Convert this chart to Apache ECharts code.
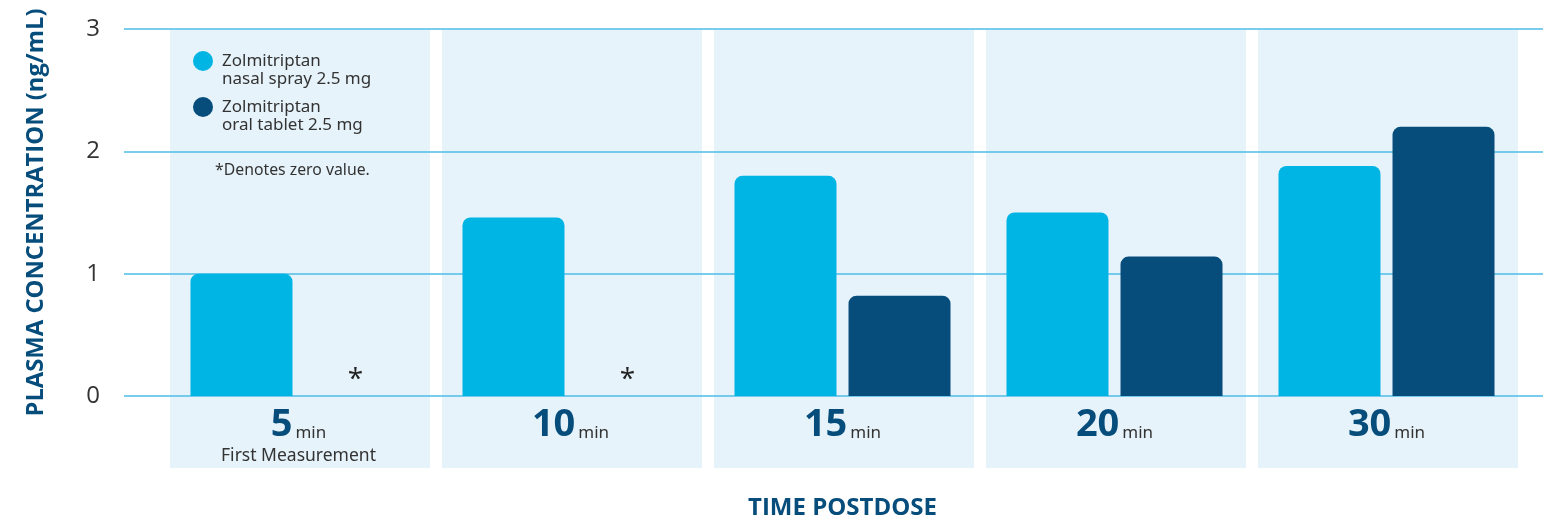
<!DOCTYPE html>
<html>
<head>
<meta charset="utf-8">
<script src="https://cdn.jsdelivr.net/npm/echarts@6/dist/echarts.min.js"></script>
<style>
html,body{margin:0;padding:0;background:#fff;}
#c{width:1543px;height:516px;}
</style>
</head>
<body>
<div id="c"></div>
<script>
const categories = ['5', '10', '15', '20', '30'];
const subLabels = ['First Measurement', '', '', '', ''];
const nasalSpray = [1.0, 1.46, 1.8, 1.5, 1.88];
const oralTablet = [0, 0, 0.82, 1.14, 2.2];
const panelValues = [1, 1, 1, 1, 1];
const yTicks = [0, 1, 2, 3];

const NAVY = '#064d7c';
const CYAN = '#00b4e4';
const PANEL = '#e6f3fa';
const GRIDLINE = '#4cbde6';
const TXT = '#333333';

const chart = echarts.init(document.getElementById('c'));
chart.setOption({
  animation: false,
  backgroundColor: '#ffffff',
  textStyle: { fontFamily: 'Open Sans' },
  grid: [
    { left: 124, right: 0, top: 29, bottom: 120, outerBoundsMode: 'none', containLabel: false },
    { left: 162.5, right: 20.5, top: 29, bottom: 120, outerBoundsMode: 'none', containLabel: false },
    { left: 164, right: 19, top: 30, bottom: 48, outerBoundsMode: 'none', containLabel: false }
  ],
  legend: {
    orient: 'vertical',
    left: 193,
    top: 34,
    padding: 0,
    itemGap: -8,
    itemWidth: 20,
    itemHeight: 20,
    icon: 'circle',
    data: ['Zolmitriptan\nnasal spray 2.5 mg', 'Zolmitriptan\noral tablet 2.5 mg'],
    formatter: function (name) { return '\n' + name; },
    textStyle: {
      fontFamily: 'Noto Sans',
      fontSize: 17,
      lineHeight: 18,
      color: TXT,
      padding: [0, 0, 0, 4]
    }
  },
  graphic: [{
    type: 'text',
    left: 215,
    top: 162,
    style: {
      text: '*Denotes zero value.',
      font: '15.8px "Noto Sans"',
      fill: TXT
    }
  }],
  xAxis: [
    { gridIndex: 0, type: 'value', min: 0, max: 1, show: false },
    {
      gridIndex: 1,
      type: 'category',
      data: categories,
      axisLine: { show: false },
      axisTick: { show: false },
      name: 'TIME POSTDOSE',
      nameLocation: 'middle',
      nameGap: 100,
      nameTextStyle: { fontFamily: 'Open Sans', fontWeight: 'bold', fontSize: 24, color: NAVY },
      axisLabel: {
        margin: 8,
        interval: 0,
        formatter: function (v, i) {
          let s = '{n|' + v + '}{u|min}';
          if (subLabels[i]) s += '\n{s|' + subLabels[i] + '}';
          return s;
        },
        rich: {
          n: { fontFamily: 'Open Sans', fontWeight: 'bold', fontSize: 38, color: NAVY, lineHeight: 40, verticalAlign: 'bottom' },
          u: { fontFamily: 'Noto Sans', fontSize: 17, color: TXT, lineHeight: 40, verticalAlign: 'bottom', padding: [0, 0, 2, 3] },
          s: { fontFamily: 'Noto Sans', fontSize: 17.5, color: TXT, lineHeight: 25 }
        }
      }
    },
    { gridIndex: 2, type: 'category', data: categories, show: false }
  ],
  yAxis: [
    {
      gridIndex: 0,
      type: 'value',
      min: yTicks[0],
      max: yTicks[yTicks.length - 1],
      interval: 1,
      axisLine: { show: false },
      axisTick: { show: false },
      splitLine: { lineStyle: { color: GRIDLINE, width: 1.5 } },
      axisLabel: { margin: 24, fontFamily: 'Open Sans', fontSize: 24, color: TXT },
      name: 'PLASMA CONCENTRATION (ng/mL)',
      nameLocation: 'middle',
      nameGap: 76,
      nameTextStyle: { fontFamily: 'Open Sans', fontWeight: 'bold', fontSize: 23.8, color: NAVY }
    },
    { gridIndex: 1, type: 'value', min: 0, max: 3, interval: 1, show: false },
    { gridIndex: 2, type: 'value', min: 0, max: 1, show: false }
  ],
  series: [
    {
      type: 'bar',
      xAxisIndex: 2,
      yAxisIndex: 2,
      data: panelValues,
      barWidth: 260,
      silent: true,
      z: -5,
      itemStyle: { color: PANEL },
      legendHoverLink: false
    },
    {
      name: 'Zolmitriptan\nnasal spray 2.5 mg',
      type: 'bar',
      xAxisIndex: 1,
      yAxisIndex: 1,
      data: nasalSpray,
      barWidth: 102,
      barGap: '11.8%',
      itemStyle: { color: CYAN, borderRadius: [8, 8, 0, 0] }
    },
    {
      name: 'Zolmitriptan\noral tablet 2.5 mg',
      type: 'bar',
      xAxisIndex: 1,
      yAxisIndex: 1,
      data: oralTablet,
      barWidth: 102,
      barGap: '11.8%',
      itemStyle: { color: NAVY, borderRadius: [8, 8, 0, 0] },
      label: {
        show: true,
        position: 'top',
        distance: 2,
        fontFamily: 'Open Sans',
        fontSize: 28,
        color: '#222',
        formatter: function (p) { return p.value === 0 ? '*' : ''; }
      }
    }
  ]
});
</script>
</body>
</html>
